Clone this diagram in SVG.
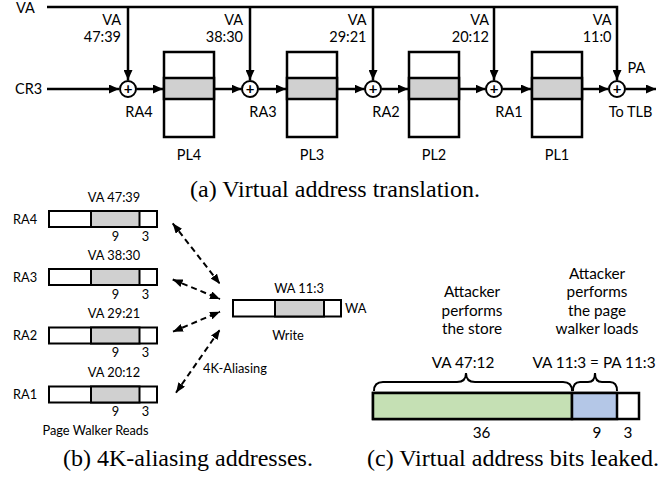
<svg xmlns="http://www.w3.org/2000/svg" width="669" height="481" viewBox="0 0 669 481">
<style>
text{font-family:Lato,"Liberation Sans",sans-serif;fill:#000}
.t{font-size:14.5px}
.b{font-size:12.8px}
.c{font-size:15.3px}
.cap{font-family:"Liberation Serif",serif;font-size:24px}
.m{text-anchor:middle}
.e{text-anchor:end}
.ln{stroke:#000;stroke-width:2.5;fill:none}
.box{stroke:#000;stroke-width:2.5;fill:#fff}
.gray{fill:#d0d0d0;stroke:#000;stroke-width:2.5}
.add{fill:#fff;stroke:#000;stroke-width:2}
.plus{font-size:15px;font-weight:bold;text-anchor:middle}
.bar{stroke:#000;stroke-width:2;fill:#fff}
.bg{stroke:#000;stroke-width:2;fill:#d0d0d0}
.dash{stroke:#000;stroke-width:2;fill:none;stroke-dasharray:6 4}
.br{stroke:#000;stroke-width:2;fill:none}
</style>
<defs>
<marker id="ah" viewBox="0 0 10 9" refX="10" refY="4.5" markerWidth="10" markerHeight="9" markerUnits="userSpaceOnUse" orient="auto"><path d="M0,0 L10,4.5 L0,9 z" fill="#000"/></marker>
<marker id="dh" viewBox="0 0 10 8" refX="10" refY="4" markerWidth="10" markerHeight="8" markerUnits="userSpaceOnUse" orient="auto-start-reverse"><path d="M0,0 L10,4 L0,8 z" fill="#000"/></marker>
</defs>

<!-- (a) connectors -->
<g id="connectors-a">
<path class="ln" d="M47,7 H617 V80" marker-end="url(#ah)"/>
<path class="ln" d="M128,7 V80" marker-end="url(#ah)"/>
<path class="ln" d="M250,7 V80" marker-end="url(#ah)"/>
<path class="ln" d="M373,7 V80" marker-end="url(#ah)"/>
<path class="ln" d="M494,7 V80" marker-end="url(#ah)"/>
<path class="ln" d="M47,89 H119" marker-end="url(#ah)"/>
<path class="ln" d="M136.5,89 H163" marker-end="url(#ah)"/>
<path class="ln" d="M214,89 H241.5" marker-end="url(#ah)"/>
<path class="ln" d="M258.5,89 H286" marker-end="url(#ah)"/>
<path class="ln" d="M337,89 H364.5" marker-end="url(#ah)"/>
<path class="ln" d="M381.5,89 H408" marker-end="url(#ah)"/>
<path class="ln" d="M459,89 H485.5" marker-end="url(#ah)"/>
<path class="ln" d="M502.5,89 H531" marker-end="url(#ah)"/>
<path class="ln" d="M582,89 H608.5" marker-end="url(#ah)"/>
<path class="ln" d="M625.5,89 H656" marker-end="url(#ah)"/>
</g>

<g id="labels-a">
<text class="t" x="16" y="12.5">VA</text>
<text class="t" x="15" y="94">CR3</text>
<text class="t e" x="121" y="25">VA</text>
<text class="t e" x="121" y="42">47:39</text>
<text class="t e" x="243" y="25">VA</text>
<text class="t e" x="243" y="42">38:30</text>
<text class="t e" x="366.5" y="25">VA</text>
<text class="t e" x="366.5" y="42">29:21</text>
<text class="t e" x="489" y="25">VA</text>
<text class="t e" x="489" y="42">20:12</text>
<text class="t e" x="611.5" y="25">VA</text>
<text class="t e" x="611.5" y="42">11:0</text>
<text class="t m" x="636.5" y="73">PA</text>
</g>

<g id="RA4"><circle class="add" cx="128" cy="89" r="8"/><text class="plus" x="128" y="94">+</text><text class="t m" x="139" y="117">RA4</text></g>
<g id="RA3"><circle class="add" cx="250" cy="89" r="8"/><text class="plus" x="250" y="94">+</text><text class="t m" x="263" y="117">RA3</text></g>
<g id="RA2"><circle class="add" cx="373" cy="89" r="8"/><text class="plus" x="373" y="94">+</text><text class="t m" x="386" y="117">RA2</text></g>
<g id="RA1"><circle class="add" cx="494" cy="89" r="8"/><text class="plus" x="494" y="94">+</text><text class="t m" x="509" y="117">RA1</text></g>
<g id="PA-adder"><circle class="add" cx="617" cy="89" r="8"/><text class="plus" x="617" y="94">+</text><text class="t m" x="630.5" y="117">To TLB</text></g>

<g id="PL4"><rect class="box" x="164" y="52" width="50" height="85"/><rect class="gray" x="164" y="78" width="50" height="21"/><text class="t m" x="189" y="160">PL4</text></g>
<g id="PL3"><rect class="box" x="287" y="52" width="50" height="85"/><rect class="gray" x="287" y="78" width="50" height="21"/><text class="t m" x="312" y="160">PL3</text></g>
<g id="PL2"><rect class="box" x="409" y="52" width="50" height="85"/><rect class="gray" x="409" y="78" width="50" height="21"/><text class="t m" x="434" y="160">PL2</text></g>
<g id="PL1"><rect class="box" x="532" y="52" width="50" height="85"/><rect class="gray" x="532" y="78" width="50" height="21"/><text class="t m" x="557" y="160">PL1</text></g>

<text class="cap m" x="335" y="196.5">(a) Virtual address translation.</text>

<!-- (b) -->
<g id="bar-RA4">
<rect class="bar" x="49" y="211" width="108" height="16"/><rect class="bg" x="91" y="211" width="48.5" height="16"/>
<text class="b" x="13" y="223.5">RA4</text><text class="b m" x="114" y="201.5">VA 47:39</text>
<text class="b m" x="115.5" y="240.5">9</text><text class="b m" x="145.5" y="240.5">3</text>
</g>
<g id="bar-RA3">
<rect class="bar" x="49" y="269" width="108" height="16"/><rect class="bg" x="91" y="269" width="48.5" height="16"/>
<text class="b" x="13" y="281.5">RA3</text><text class="b m" x="114" y="259.5">VA 38:30</text>
<text class="b m" x="115.5" y="298.5">9</text><text class="b m" x="145.5" y="298.5">3</text>
</g>
<g id="bar-RA2">
<rect class="bar" x="49" y="327.5" width="108" height="16"/><rect class="bg" x="91" y="327.5" width="48.5" height="16"/>
<text class="b" x="13" y="340">RA2</text><text class="b m" x="114" y="318">VA 29:21</text>
<text class="b m" x="115.5" y="357">9</text><text class="b m" x="145.5" y="357">3</text>
</g>
<g id="bar-RA1">
<rect class="bar" x="49" y="386.5" width="108" height="16"/><rect class="bg" x="91" y="386.5" width="48.5" height="16"/>
<text class="b" x="13" y="399">RA1</text><text class="b m" x="114" y="377">VA 20:12</text>
<text class="b m" x="115.5" y="416">9</text><text class="b m" x="145.5" y="416">3</text>
<text class="b m" x="95.5" y="434.5">Page Walker Reads</text>
</g>
<g id="bar-WA">
<rect class="bar" x="233" y="300" width="108" height="16.5"/><rect class="bg" x="275" y="300" width="49" height="16.5"/>
<text class="b m" x="299" y="292.5">WA 11:3</text>
<text class="b" x="345" y="312.5">WA</text>
<text class="b m" x="288" y="339.5">Write</text>
</g>
<g id="connectors-b">
<path class="dash" d="M172.7,223.3 L220,284" marker-start="url(#dh)" marker-end="url(#dh)"/>
<path class="dash" d="M172.7,279.5 L220,299" marker-start="url(#dh)" marker-end="url(#dh)"/>
<path class="dash" d="M173,331.7 L220,311.7" marker-start="url(#dh)" marker-end="url(#dh)"/>
<path class="dash" d="M176,392.7 L220,329.5" marker-start="url(#dh)" marker-end="url(#dh)"/>
<text class="b" x="203" y="372.5">4K-Aliasing</text>
</g>
<text class="cap m" x="188" y="465.5">(b) 4K-aliasing addresses.</text>

<!-- (c) -->
<g id="leak-bar">
<rect x="373" y="393" width="266" height="26" fill="#fff" stroke="#000" stroke-width="2.5"/>
<rect x="373" y="393" width="199" height="26" fill="#c5e0b4" stroke="#000" stroke-width="2.5"/>
<rect x="572" y="393" width="45" height="26" fill="#b4c7e7" stroke="#000" stroke-width="2.5"/>
<text class="c m" x="481.5" y="438">36</text>
<text class="c m" x="597" y="438">9</text>
<text class="c m" x="628" y="438">3</text>
</g>
<g id="brace-store">
<path class="br" d="M374,391 Q374,382 383,382 L457,382 Q466,382 466,373 Q466,382 475,382 L563,382 Q572,382 572,391"/>
<text class="c m" x="463" y="367.5">VA 47:12</text>
<text class="c m" x="472" y="297">Attacker</text>
<text class="c m" x="472" y="315.5">performs</text>
<text class="c m" x="472" y="334">the store</text>
</g>
<g id="brace-walker">
<path class="br" d="M573,391 Q573,382 580,382 L588,382 Q595,382 595,373 Q595,382 602,382 L610,382 Q617,382 617,391"/>
<text class="c m" x="594" y="367.5">VA 11:3 = PA 11:3</text>
<text class="c m" x="597" y="278.5">Attacker</text>
<text class="c m" x="597" y="297">performs</text>
<text class="c m" x="597" y="315.5">the page</text>
<text class="c m" x="597" y="334">walker loads</text>
</g>
<text class="cap m" x="513" y="465.5">(c) Virtual address bits leaked.</text>
</svg>
